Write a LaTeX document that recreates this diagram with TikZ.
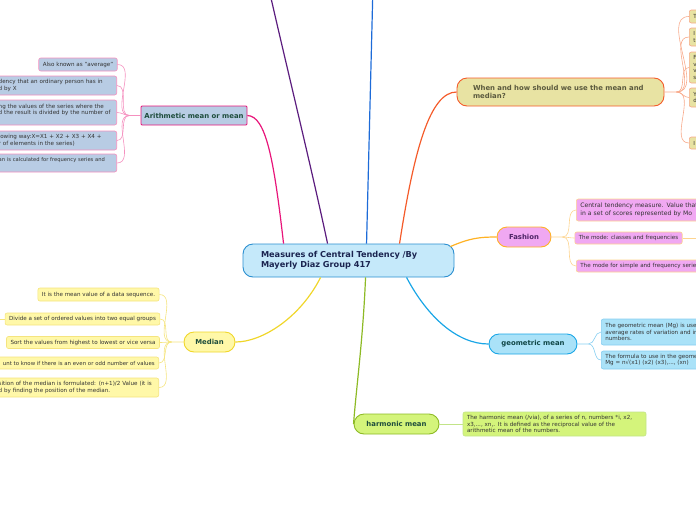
\documentclass[tikz,border=0pt]{standalone}
\usepackage{fontspec}
\setmainfont{DejaVu Sans}
\usepackage{xcolor}
\usetikzlibrary{calc}

\definecolor{centfill}{HTML}{C5E9FA}
\definecolor{centline}{HTML}{2B8FD0}
\definecolor{centtext}{HTML}{1B2550}
\definecolor{arfill}{HTML}{B8CCE4}
\definecolor{arline}{HTML}{E8157A}
\definecolor{artwig}{HTML}{F590BF}
\definecolor{greentext}{HTML}{1E4D3C}
\definecolor{purpleline}{HTML}{5B1C7E}
\definecolor{blueline}{HTML}{1D6BD8}
\definecolor{whfill}{HTML}{E8E3A3}
\definecolor{whline}{HTML}{F45B2A}
\definecolor{whtext}{HTML}{5B5A3E}
\definecolor{whtwig}{HTML}{F8A98A}
\definecolor{fafill}{HTML}{F0A8F2}
\definecolor{faline}{HTML}{FFB224}
\definecolor{fatext}{HTML}{4D2466}
\definecolor{fatwig}{HTML}{FDD48F}
\definecolor{gefill}{HTML}{AAE2F8}
\definecolor{geline}{HTML}{1AA6E6}
\definecolor{getext}{HTML}{114747}
\definecolor{getwig}{HTML}{86CEF1}
\definecolor{hafill}{HTML}{D4F47B}
\definecolor{haline}{HTML}{8DBA25}
\definecolor{hatwig}{HTML}{C2E488}
\definecolor{mefill}{HTML}{FFF8A8}
\definecolor{meline}{HTML}{F0D62A}
\definecolor{metwig}{HTML}{F5E47E}
\definecolor{leaftext}{HTML}{333333}

\begin{document}
\begin{tikzpicture}[
    x=1pt, y=-1pt,
    topic/.style={rectangle, draw, rounded corners=10pt, line width=0.9pt,
                  inner sep=0pt, align=center, font=\fontsize{6.9}{8}\selectfont\bfseries},
    leaf/.style={rectangle, draw, rounded corners=2pt, line width=0.6pt, inner xsep=4pt,
                 inner ysep=0pt, align=left, text=leaftext, font=\fontsize{5.6}{6.6}\selectfont},
    narrow/.style={font=\fontsize{5.2}{6.6}\selectfont},
    branch/.style={line width=1.2pt},
    twig/.style={line width=0.6pt},
]
\useasboundingbox (0,0) rectangle (696,520);
\clip (0,0) rectangle (696,520);

% Centre
\node[topic, fill=centfill, draw=centline, text=centtext, minimum width=211pt, minimum height=33pt,
      text width=175pt, align=left, font=\fontsize{8.2}{10}\selectfont\bfseries]
      (cen) at (348.5,260.5) {Measures of Central Tendency /By\\Mayerly Diaz Group 417};

% Arithmetic mean
\node[topic, rounded corners=1pt, fill=arfill, draw=arline, text=greentext, minimum width=106pt,
      minimum height=19pt] (arith) at (194,115.5) {Arithmetic mean or mean};
\node[leaf, fill=arfill, draw=artwig, minimum width=78pt, minimum height=13pt, align=center]
      (al1) at (78,64.5) {Also known as "average"};
\node[leaf, fill=arfill, draw=artwig, anchor=east, text width=114pt, minimum height=19pt]
      (al2) at (117,85.5) {dency that an ordinary person has in\\d by X};
\node[leaf, fill=arfill, draw=artwig, anchor=east, text width=114pt, minimum height=25pt]
      (al3) at (117,112.5) {ng the values of the series where the\\d the result is divided by the number of\\\mbox{}};
\node[leaf, fill=arfill, draw=artwig, anchor=east, text width=114pt, minimum height=19pt]
      (al4) at (117,140.5) {lowing way:X=X1 + X2 + X3 + X4 +\\r of elements in the series)};
\node[leaf, narrow, fill=arfill, draw=artwig, anchor=east, text width=114pt, minimum height=18pt]
      (al5) at (117,163) {an is calculated for frequency series and\\\mbox{}};

% When and how
\node[topic, fill=whfill, draw=whline, text=whtext, minimum width=207pt, minimum height=28pt,
      text width=175pt, align=left] (when) at (560.5,92) {When and how should we use the mean and\\median?};
\node[leaf, fill=whfill, draw=whtwig, anchor=west, text width=52pt, minimum height=13pt]
      (wl1) at (689,16.5) {T};
\node[leaf, fill=whfill, draw=whtwig, anchor=west, text width=52pt, minimum height=18pt]
      (wl2) at (689,37) {I\\t};
\node[leaf, fill=whfill, draw=whtwig, anchor=west, text width=52pt, minimum height=31pt]
      (wl3) at (689,67.5) {F\\v\\v\\s};
\node[leaf, fill=whfill, draw=whtwig, anchor=west, text width=52pt, minimum height=19pt]
      (wl4) at (689,97.5) {Y\\d};
\node[leaf, fill=whfill, draw=whtwig, anchor=west, text width=52pt, minimum height=12pt]
      (wl5) at (689,143) {I};

% Fashion
\node[topic, fill=fafill, draw=faline, text=fatext, minimum width=54pt, minimum height=20pt]
      (fash) at (524,237) {Fashion};
\node[leaf, fill=fafill, draw=fatwig, anchor=west, text width=132pt, minimum height=22pt,
      font=\fontsize{6.1}{7.4}\selectfont] (fl1) at (576,210)
      {Central tendency measure. Value that\\in a set of scores represented by Mo};
\node[leaf, fill=fafill, draw=fatwig, minimum width=105pt, minimum height=12pt, align=center]
      (fl2) at (628.5,238) {The mode: classes and frequencies};
\node[leaf, fill=fafill, draw=fatwig, anchor=west, text width=132pt, minimum height=12pt]
      (fl3) at (576,266) {The mode for simple and frequency series};
\coordinate (faout) at (705,238);

% Geometric mean
\node[topic, fill=gefill, draw=geline, text=getext, minimum width=88pt, minimum height=20pt]
      (geo) at (533,344) {geometric mean};
\node[leaf, fill=gefill, draw=getwig, anchor=west, text width=112pt, minimum height=26pt]
      (gl1) at (601,332) {The geometric mean (Mg) is used\\average rates of variation and in\\numbers.};
\node[leaf, fill=gefill, draw=getwig, anchor=west, text width=112pt, minimum height=18pt]
      (gl2) at (601,360) {The formula to use in the geometric\\Mg = n√(x1) (x2) (x3),..., (xn)};

% Harmonic mean
\node[topic, fill=hafill, draw=haline, text=greentext, minimum width=85pt, minimum height=20pt]
      (harm) at (396.5,424) {harmonic mean};
\node[leaf, fill=hafill, draw=hatwig, text width=175pt, minimum height=24pt]
      (hl) at (554.5,424) {The harmonic mean (/via), of a series of n, numbers *i, x2,\\x3,..., xn,. It is defined as the reciprocal value of the\\arithmetic mean of the numbers.};

% Median
\node[topic, fill=mefill, draw=meline, text=greentext, minimum width=51pt, minimum height=20pt]
      (med) at (209.5,342) {Median};
\node[leaf, fill=mefill, draw=metwig, minimum width=121pt, minimum height=13pt, align=center]
      (ml1) at (98.5,294.5) {It is the mean value of a data sequence.};
\node[leaf, fill=mefill, draw=metwig, minimum width=153pt, minimum height=12pt, align=center]
      (ml2) at (82.5,319) {Divide a set of ordered values into two equal groups};
\node[leaf, fill=mefill, draw=metwig, minimum width=152pt, minimum height=12pt, align=center]
      (ml3) at (83,342.5) {Sort the values from highest to lowest or vice versa};
\node[leaf, fill=mefill, draw=metwig, anchor=east, text width=175pt, minimum height=12pt, align=right,
      font=\fontsize{5.4}{6.6}\selectfont]
      (ml4) at (159,363) {unt to know if there is an even or odd number of values};
\node[leaf, fill=mefill, draw=metwig, anchor=east, text width=156pt, minimum height=19pt]
      (ml5) at (159,387.5) {sition of the median is formulated: (n+1)/2 Value (it is\\d by finding the position of the median.};
\coordinate (meout) at (-5,319);

% Off-canvas branches
\coordinate (uppurple) at (268,-15);
\coordinate (upblue) at (373,-15);

% Branches
\draw[branch, arline] ($(cen.north west)+(41,0)$) .. controls (274,160) and (266,116) .. (arith.east);
\draw[branch, purpleline] ($(cen.north west)+(85,0)$) .. controls (312,170) and (285,60) .. (uppurple);
\draw[branch, blueline] ($(cen.north west)+(124,0)$) -- (upblue);
\draw[branch, whline] ($(cen.north west)+(157,0)$) .. controls (414,150) and (430,92) .. (when.west);
\draw[branch, faline] ($(cen.north east)+(-4,3)$) .. controls (470,238) and (480,237) .. (fash.west);
\draw[branch, geline] ($(cen.south west)+(164,0)$) .. controls (428,318) and (458,344) .. (geo.west);
\draw[branch, haline] ($(cen.south west)+(123,0)$) .. controls (363,340) and (356,390) .. (harm.west);
\draw[branch, meline] ($(cen.south west)+(78,0)$) .. controls (300,318) and (262,342) .. (med.east);

% Twigs
\coordinate (arhub) at ($(arith.west)+(-11,0)$);
\draw[twig, artwig] (arith.west) -- (arhub) to[out=180,in=0] (al1.east);
\draw[twig, artwig] (arhub) to[out=180,in=0] (al2.east);
\draw[twig, artwig] (arhub) to[out=180,in=0] (al3.east);
\draw[twig, artwig] (arhub) to[out=180,in=0] (al4.east);
\draw[twig, artwig] (arhub) to[out=180,in=0] (al5.east);

\coordinate (whhub) at ($(when.east)+(12,0)$);
\draw[twig, whtwig] (when.east) -- (whhub) to[out=0,in=180] (wl1.west);
\draw[twig, whtwig] (whhub) to[out=0,in=180] (wl2.west);
\draw[twig, whtwig] (whhub) to[out=0,in=180] (wl3.west);
\draw[twig, whtwig] (whhub) to[out=0,in=180] (wl4.west);
\draw[twig, whtwig] (whhub) to[out=0,in=180] (wl5.west);

\coordinate (fahub) at ($(fash.east)+(11,0)$);
\draw[twig, fatwig] (fash.east) -- (fahub) to[out=0,in=180] (fl1.west);
\draw[twig, fatwig] (fahub) to[out=0,in=180] (fl2.west);
\draw[twig, fatwig] (fahub) to[out=0,in=180] (fl3.west);
\draw[twig, fatwig] (fl2.east) -- (faout);

\coordinate (gehub) at ($(geo.east)+(11,0)$);
\draw[twig, getwig] (geo.east) -- (gehub) to[out=0,in=180] (gl1.west);
\draw[twig, getwig] (gehub) to[out=0,in=180] (gl2.west);

\draw[twig, hatwig] (harm.east) -- (hl.west);

\coordinate (mehub) at ($(med.west)+(-12,0)$);
\draw[twig, metwig] (med.west) -- (mehub) to[out=180,in=0] (ml1.east);
\draw[twig, metwig] (mehub) to[out=180,in=0] (ml2.east);
\draw[twig, metwig] (mehub) to[out=180,in=0] (ml3.east);
\draw[twig, metwig] (mehub) to[out=180,in=0] (ml4.east);
\draw[twig, metwig] (mehub) to[out=180,in=0] (ml5.east);
\draw[twig, metwig] (ml2.west) -- (meout);

\end{tikzpicture}
\end{document}
